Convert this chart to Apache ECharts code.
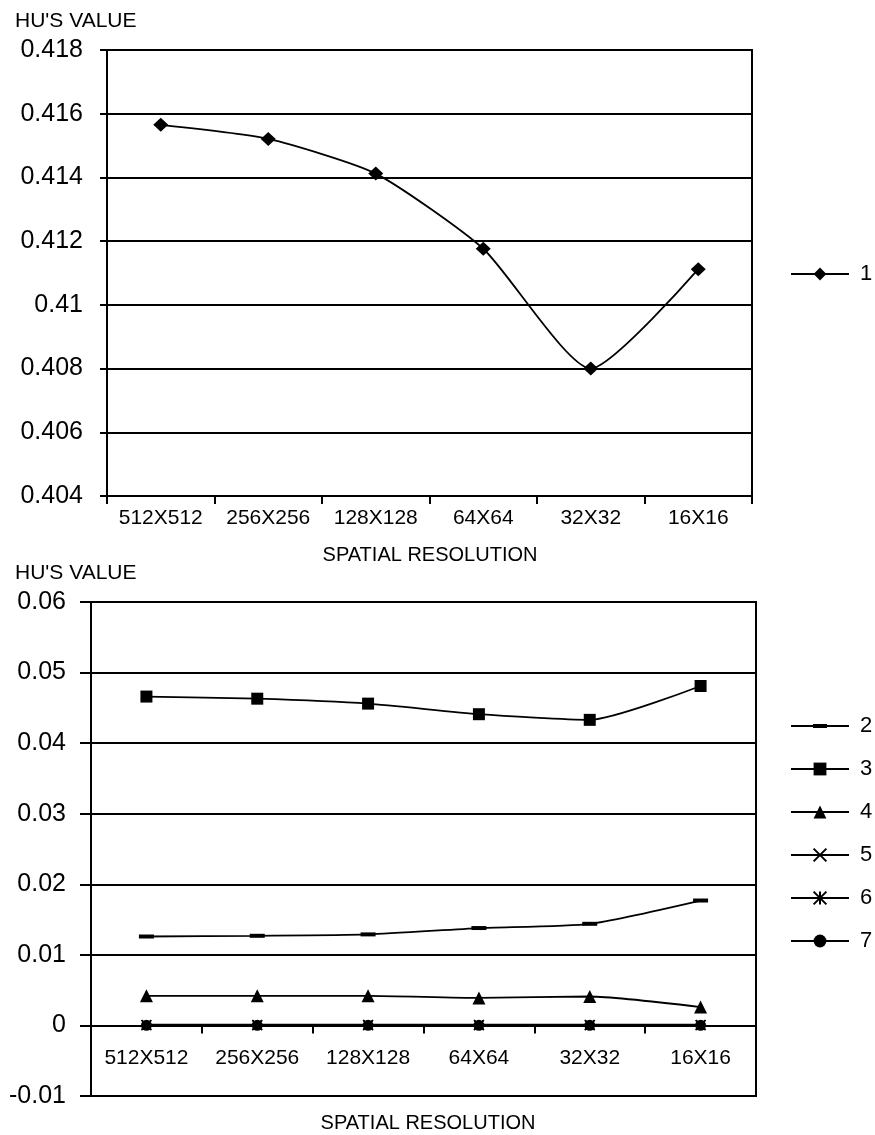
<!DOCTYPE html>
<html>
<head>
<meta charset="utf-8">
<script src="https://cdn.jsdelivr.net/npm/echarts@6/dist/echarts.min.js"></script>
<style>
  html, body { margin: 0; padding: 0; background: #fff; }
  #chart { width: 875px; height: 1135px; }
</style>
</head>
<body>
<div id="chart"></div>
<script>
// Spatial resolutions on the category axis
const resolutions = ['512X512', '256X256', '128X128', '64X64', '32X32', '16X16'];

// Hu's moment invariants per resolution
const hu1 = [0.41565, 0.41521, 0.41412, 0.41176, 0.40800, 0.41112];
const hu2 = [0.0126, 0.0127, 0.0129, 0.0138, 0.0144, 0.0177];
const hu3 = [0.0466, 0.0463, 0.0456, 0.0441, 0.0433, 0.0481];
const hu4 = [0.0042, 0.0042, 0.0042, 0.0039, 0.0041, 0.0026];
const hu5 = [0.0001, 0.0001, 0.0001, 0.0001, 0.0001, 0.0001];
const hu6 = [0.00005, 0.00005, 0.00005, 0.00005, 0.00005, 0.00005];
const hu7 = [0.00002, 0.00002, 0.00002, 0.00002, 0.00002, 0.00002];

// Value-axis ticks and their printed labels
const topTicks = [0.404, 0.406, 0.408, 0.410, 0.412, 0.414, 0.416, 0.418];
const topTickLabels = ['0.404', '0.406', '0.408', '0.41', '0.412', '0.414', '0.416', '0.418'];
const bottomTicks = [-0.01, 0, 0.01, 0.02, 0.03, 0.04, 0.05, 0.06];
const bottomTickLabels = ['-0.01', '0', '0.01', '0.02', '0.03', '0.04', '0.05', '0.06'];

const FONT = "'Liberation Sans', Arial, sans-serif";
const INK = '#000';

const BOTTOM_GRID_H = 494;

function tickFormatter(ticks, labels) {
  return function (v) {
    const i = ticks.findIndex(t => Math.abs(t - v) < 1e-9);
    return i >= 0 ? labels[i] : '';
  };
}

function valueAxis(gridIndex, ticks, labels, fontSize, tickLen, margin) {
  return {
    type: 'value',
    gridIndex: gridIndex,
    min: ticks[0],
    max: ticks[ticks.length - 1],
    interval: +(ticks[1] - ticks[0]).toFixed(6),
    axisLine: { show: true, lineStyle: { color: INK, width: 2 } },
    axisTick: { show: true, length: tickLen, lineStyle: { color: INK, width: 2 } },
    axisLabel: {
      color: INK, fontSize: fontSize, fontFamily: FONT, margin: margin,
      formatter: tickFormatter(ticks, labels)
    },
    splitLine: { show: true, lineStyle: { color: INK, width: 2 } }
  };
}

// Category axis; `lift` raises the whole axis (line, ticks, labels) into the grid
function categoryAxis(gridIndex, margin, lift) {
  return {
    type: 'category',
    gridIndex: gridIndex,
    data: resolutions,
    boundaryGap: true,
    offset: -lift,
    axisLine: { show: true, onZero: false, lineStyle: { color: INK, width: 2 } },
    axisTick: { show: true, length: 8, lineStyle: { color: INK, width: 2 } },
    axisLabel: { color: INK, fontSize: 21, fontFamily: FONT, margin: margin, interval: 0 },
    splitLine: { show: false }
  };
}

// Marker shapes
const CROSS = 'path://M0,0L10,10M10,0L0,10';
const STAR = 'path://M5,0L5,10M0,0L10,10M10,0L0,10';
// Legend icon for series 2: line with a short dash in the middle (corner specks keep the box size)
const DASH_ICON = 'path://M0,0L0.01,0L0,0.01ZM58,16L57.99,16L58,15.99Z' +
  'M0,7.1L58,7.1L58,8.9L0,8.9ZM22,6L36,6L36,10L22,10Z';

function lineSeries(name, data, axisIdx, symbol, symbolSize, stroked) {
  return {
    name: name,
    type: 'line',
    xAxisIndex: axisIdx,
    yAxisIndex: axisIdx,
    data: data,
    smooth: 0.2,
    symbol: symbol,
    symbolSize: symbolSize,
    showSymbol: true,
    lineStyle: { color: INK, width: 1.8 },
    itemStyle: stroked
      ? { color: INK, borderColor: INK, borderWidth: 1.6 }
      : { color: INK },
    emphasis: { disabled: true },
    z: 5
  };
}

const legendBase = {
  orient: 'vertical',
  left: 785,
  itemWidth: 58,
  itemHeight: 16,
  itemGap: 21,
  selectedMode: false,
  textStyle: { color: INK, fontSize: 22, fontFamily: FONT, padding: [0, 0, 0, 6] }
};

const chart = echarts.init(document.getElementById('chart'), null, { renderer: 'canvas' });

chart.setOption({
  animation: false,
  backgroundColor: '#fff',
  grid: [
    { left: 107, top: 50, width: 645, height: 446, show: true, borderColor: INK, borderWidth: 2, backgroundColor: 'transparent' },
    { left: 91, top: 602, width: 665, height: BOTTOM_GRID_H, show: true, borderColor: INK, borderWidth: 2, backgroundColor: 'transparent' }
  ],
  xAxis: [
    categoryAxis(0, 12, 0),
    // the lower category axis sits on the zero line, one tick step above the bottom
    categoryAxis(1, 22, BOTTOM_GRID_H / (bottomTicks.length - 1))
  ],
  yAxis: [
    valueAxis(0, topTicks, topTickLabels, 25, 7, 24),
    valueAxis(1, bottomTicks, bottomTickLabels, 25, 11, 25)
  ],
  legend: [
    Object.assign({}, legendBase, { data: ['1'], top: 258 }),
    Object.assign({}, legendBase, {
      data: [{ name: '2', icon: DASH_ICON }, '3', '4', '5', '6', '7'],
      top: 710
    })
  ],
  graphic: [
    { type: 'text', x: 15, y: 21, style: { text: "HU'S VALUE", font: '21px ' + FONT, fill: INK, align: 'left', verticalAlign: 'middle' } },
    { type: 'text', x: 430, y: 555, style: { text: 'SPATIAL RESOLUTION', font: '20px ' + FONT, fill: INK, align: 'center', verticalAlign: 'middle' } },
    { type: 'text', x: 15, y: 573, style: { text: "HU'S VALUE", font: '21px ' + FONT, fill: INK, align: 'left', verticalAlign: 'middle' } },
    { type: 'text', x: 428, y: 1123, style: { text: 'SPATIAL RESOLUTION', font: '20px ' + FONT, fill: INK, align: 'center', verticalAlign: 'middle' } }
  ],
  series: [
    lineSeries('1', hu1, 0, 'diamond', [15, 14], false),
    lineSeries('2', hu2, 1, 'rect', [15, 4], false),
    lineSeries('3', hu3, 1, 'rect', 12, false),
    lineSeries('4', hu4, 1, 'triangle', 13, false),
    lineSeries('5', hu5, 1, CROSS, 9, true),
    lineSeries('6', hu6, 1, STAR, 10, true),
    lineSeries('7', hu7, 1, 'circle', 11, false)
  ]
});
</script>
</body>
</html>
